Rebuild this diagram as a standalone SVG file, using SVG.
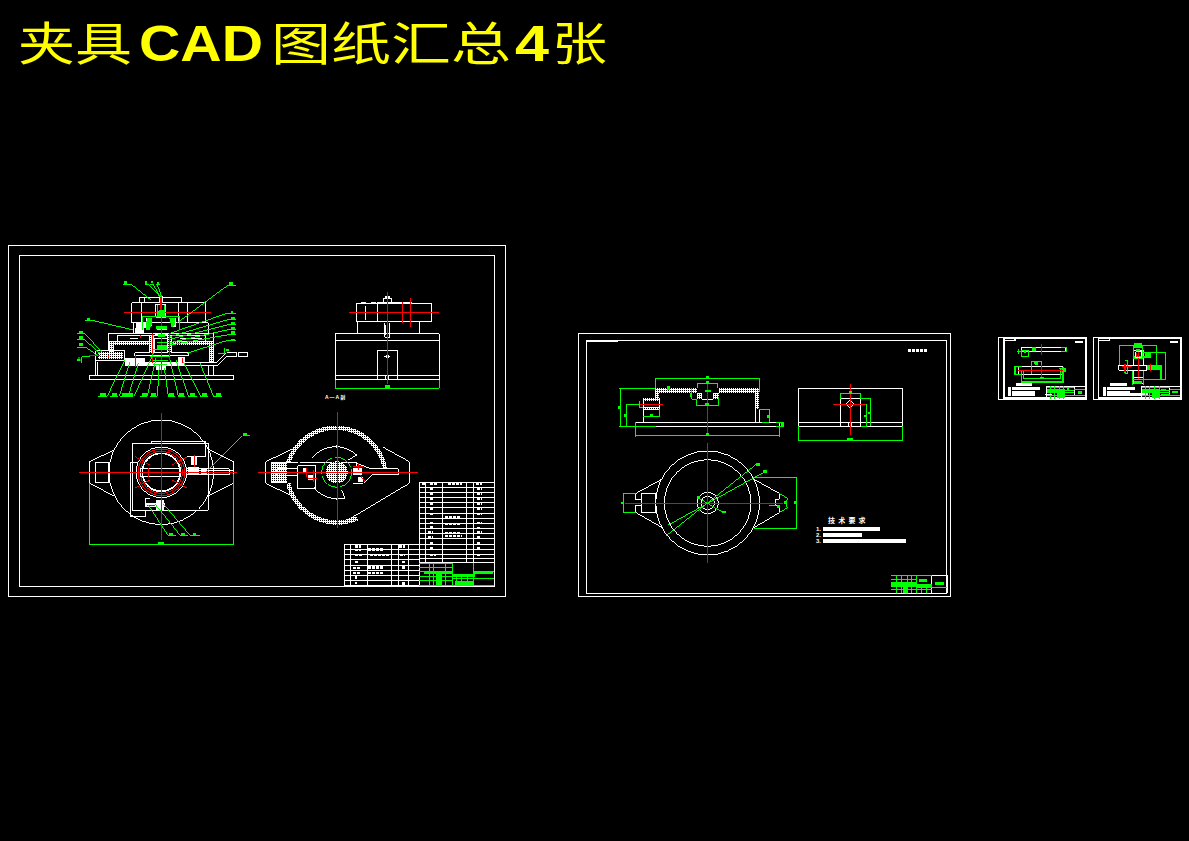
<svg xmlns="http://www.w3.org/2000/svg" width="1189" height="841" viewBox="0 0 1189 841">
<style>
text{font-family:"Liberation Sans","Noto Sans CJK SC",sans-serif}
.t{fill:#ff0;font-size:46px;font-family:"Noto Sans CJK SC",sans-serif}
.c{fill:#ff0;font-size:50px;font-weight:700}
.tw{fill:#fff;font-size:7px;font-weight:700}
g{shape-rendering:crispEdges}
.f{fill:none;stroke:#fff;stroke-width:1}
.w{fill:none;stroke:#fff;stroke-width:3}
.r{fill:none;stroke:#f00;stroke-width:3}
.g{fill:none;stroke:#0f0;stroke-width:3}
.wf{fill:#fff;stroke:none}
.gf{fill:#0f0;stroke:none}
.h{fill:url(#hatch);stroke:none}
.hs{fill:none;stroke:url(#hatch);stroke-width:13}
.b{fill:none;stroke:#fff;stroke-width:7;stroke-dasharray:9 3}
.gb{fill:none;stroke:#0f0;stroke-width:8}
</style>
<defs>
<pattern id="hatch" width="6" height="6" patternUnits="userSpaceOnUse"><rect width="6" height="6" fill="#fff"/><rect width="3" height="3" fill="#000"/></pattern>
</defs>
<rect width="1189" height="841" fill="#000"/>
<g id="title" style="shape-rendering:auto">
<text class="t" x="18" y="60" textLength="114" lengthAdjust="spacingAndGlyphs">夹具</text>
<text class="c" x="139" y="61" textLength="124" lengthAdjust="spacingAndGlyphs">CAD</text>
<text class="t" x="271" y="60" textLength="240" lengthAdjust="spacingAndGlyphs">图纸汇总</text>
<text class="c" x="515" y="61" textLength="34" lengthAdjust="spacingAndGlyphs">4</text>
<text class="t" x="552" y="60" textLength="55" lengthAdjust="spacingAndGlyphs">张</text>
</g>

<g id="sheet1">
<rect class="f" x="8.5" y="245.5" width="497" height="351"/>
<rect class="f" x="19.5" y="255.5" width="475" height="331"/>
</g>

<g id="s1-front" transform="translate(70 270) scale(.33333)">
<rect class="w" x="58" y="316" width="433" height="12"/>
<path class="w" d="M77 265V316M84 275V316M415 285V316M430 285V316"/>
<path class="w" d="M115 240V190H430V276M330 278H440L470 248H500V260H470L440 288H335"/>
<rect class="w" x="507" y="248" width="26" height="12"/>
<path class="h" d="M118 212H430V226H310V212H245V226H132V250H118Z"/>
<path class="h" d="M418 226H430V276H418Z"/>
<path class="w" d="M142 212V198H408V212M180 205H205M330 205H395"/>
<path class="w" d="M78 243H165V272H78ZM195 248H355V258H195Z"/>
<path class="h" d="M84 246H160V268H84Z"/>
<path class="wf" d="M165 265H225V288H165ZM200 275H345V288H200ZM325 262H345V285H325ZM258 285H288V300H258Z"/>
<path class="h" d="M238 196H252V250H238ZM292 196H306V250H292Z"/>
<path class="w" d="M255 205H292V248H255ZM260 180H290M255 195H295M260 290V300H285V290"/>
<path class="w" d="M185 98V158M185 158H415V190M190 158V190M185 98H407V158H352V98M216 98V160M327 98V160M210 97V82H335V97M225 82V97"/>
<path class="w" d="M258 103H288V142H258Z"/>
<path class="wf" d="M268 78H280V98H268ZM272 120H277V130H272ZM198 160H230V175H198ZM196 175H222V188H196ZM228 145H246V168H228ZM302 145H318V170H302Z"/>
<path class="r" d="M162 127H422M275 78V200M272 75V125M275 200V312M57 258H90M115 255V263M212 195V205M247 190V280M298 190V270M198 255V290M337 265V280"/>
<path class="r" style="stroke-width:6" d="M310 150V165M236 150V165"/>
<path class="g" d="M185 44L243 90M238 45L270 80M250 45L272 82M262 45L276 82M472 47L320 160M75 153L190 180M470 130L300 190M470 150L300 200M470 165L300 208M470 180L300 218M470 195L300 225M470 212L350 250M45 192L95 245M45 210L90 250M45 230L85 258M36 278V260H60M465 233V250H445"/>
<path class="g" d="M216 140H330M218 140V180M330 140V180M262 104L262 135M284 104L284 135M250 240H300M240 260H300M250 272H295M250 285H290M262 218H292M262 235H292"/>
<path class="g" d="M112 378L165 270M148 378L180 275M175 378L205 280M193 378L250 250M232 378L258 265M262 378L268 285M295 378L283 295M325 378L300 270M355 378L318 270M392 378L340 275M430 378L390 280"/>
<path class="g" d="M84 379H110M120 379H145M150 379H190M210 379H232M240 379H262M295 379H315M325 379H345M355 379H380M390 379H415M430 379H455M22 190H45M22 210H45M22 232H45M158 44H185M225 44H238M240 44H252M258 44H270M470 47H497M45 152H75M470 132H497M470 150H497M470 165H497M470 180H497M470 195H497M470 212H497"/>
<path class="gb" d="M91 374H108M125 374H142M155 374H190M215 374H230M243 374H258M297 374H313M327 374H342M360 374H376M397 374H412M437 374H454M28 186H38M28 203H38M28 224H38M162 38H172M226 37H231M242 36H250M260 39H268M477 41H488M51 148H60M483 127H490M483 146H496M483 161H496M483 176H496M483 188H496M483 210H496M22 270H31M468 240H476"/>
<path class="gf" d="M230 145H245V165L238 180H228ZM298 145H315V165L305 172ZM262 128H285V140H262ZM258 168H292V178H258ZM265 192H285V202H265ZM262 225H290V240H262ZM270 120L280 120L285 128H260Z"/>
</g>

<g id="s1-side" transform="translate(330 285) scale(.33333)">
<path class="w" d="M16 284V146H328V284M16 166H328M16 272H328M16 284H328"/>
<path class="w" d="M82 146V111H268V146M142 284V196H202V284M168 272V284M176 272V284"/>
<path class="w" d="M79 110V55H305V110ZM142 55V110M106 62V105M92 52H108M124 52H138M142 52H245"/>
<path class="w" d="M160 55V40H185V55M164 115V150M180 115V150M164 150V157H180V150M168 120V150"/>
<path class="wf" d="M167 209H177V219H167ZM163 212H181V216H163ZM165 34H179V40H165Z"/>
<path class="r" d="M172 21V298M57 82H327M217 50V115M241 40V125"/>
<path class="g" d="M16 284V310H328V284"/>
<rect class="gf" x="165" y="300" width="14" height="10"/>
</g>

<g id="s1-plan" transform="translate(70 400) scale(.33333)">
<circle class="w" cx="274" cy="217" r="157"/>
<path class="w" d="M133 150L58 185V250L133 288M413 147L491 185V250L413 288"/>
<rect class="w" x="76" y="187" width="40" height="60"/>
<path class="w" d="M187 130H415V331H187ZM181 187V350H227V331M244 130V124H407V170H350M181 187H205"/>
<circle class="w" cx="274" cy="217" r="76"/>
<circle class="r" cx="274" cy="217" r="70"/>
<circle class="r" cx="274" cy="217" r="63"/>
<circle class="w" cx="274" cy="217" r="57" style="stroke-width:5"/>
<path class="r" d="M195 170L240 195M352 170L305 195M195 264L240 240M352 264L305 240"/>
<rect class="w" x="212" y="207" width="118" height="23"/>
<path class="w" d="M350 207H478V225H350M350 212H478M478 212H490"/>
<path class="wf" d="M355 200H388V225H355ZM225 310H285V322H225ZM258 300H282V330H258ZM392 208H412V226H392ZM364 170H380V195H364Z"/>
<path class="w" d="M228 315L228 295H240"/>
<path class="r" d="M27 217H501M274 40V420M373 165V200M235 205V230M232 317H255M385 217H420"/>
<path class="g" d="M58 250V433H491V222M515 108L410 215M518 108H540M235 315L295 408H317M255 312L332 408H355M280 312L362 408H390"/>
<path class="gb" d="M265 429H283M297 404H308M333 404H345M368 404H378M519 102H531"/>
</g>

<g id="s1-section" transform="translate(70 400) scale(.33333)">
<path class="w" d="M672 145L587 185V250L660 285M940 142L1018 185V250L830 362"/>
<path class="hs" d="M655 187A150 150 0 0 1 945 205"/>
<path class="hs" d="M655 250A150 150 0 0 0 862 355"/>
<path class="w" d="M725 175A92 92 0 0 1 860 165L835 180M800 135V145M795 295H805M730 260A92 92 0 0 0 825 295L815 270"/>
<path class="h" d="M603 187H650V247H603Z"/>
<path class="w" d="M603 187H683M603 247H650M620 207H683V227H620Z"/>
<path class="w" d="M683 197H737V267H683ZM690 187H860V197M860 190L905 207H985V225H905L880 250H850"/>
<circle class="h" cx="800" cy="217" r="33"/>
<circle class="g" cx="800" cy="217" r="45" stroke-dasharray="60 8"/>
<path class="wf" d="M700 205H712V215H700ZM850 205H875V225H850ZM865 230H880V245H865ZM715 225H730V240H715Z"/>
<path class="r" d="M564 217H1043M802 36V385M865 190V210M710 205V230M730 210V245M870 225L885 245M850 200H880M715 235H740"/>
</g>

<g id="s1-tables" transform="translate(340 475) scale(.33333)">
<path class="w" d="M238 22H463V263H238ZM238 37H463M238 53H463M238 68H463M238 84H463M238 99H463M238 115H463M238 130H463M238 146H463M238 161H463M238 177H463M238 192H463M238 208H463M238 223H463M238 238H463M238 250H463M258 22V263M308 22V263M380 22V263M400 22V263"/>
<path class="w" d="M13 208H238V333H13ZM13 223H238M13 238H238M13 255H238M13 272H238M13 288H238M13 303H238M13 318H238M32 208V333M83 208V333M155 208V333M175 208V333M205 208V333"/>
<path class="b" d="M270 27H290M325 27H365M408 27H425M245 27H255M270 42H278M410 42H425M270 58H278M410 58H425M270 73H280M410 73H425M270 88H278M410 88H425M410 103H425M270 103H280M270 118H278M315 128H360M410 118H425M270 145H280M410 145H425M270 158H280M410 160H420M265 172H280M410 172H425M265 188H280M410 188H420M270 205H280M410 205H420M270 220H278M410 220H420M270 240H288M410 240H420M85 224H130M178 215H195M45 215H62M45 225H62M90 240H150M45 240H70M180 240H195M45 262H55M40 280H60M85 278H130M185 262H195M185 278H195M40 294H60M85 294H130M45 308H50M45 325H50M185 326H195"/>
<path class="b" style="stroke-width:4" d="M315 148H360M315 160H358M315 172H360M315 183H365"/>
<path class="g" d="M238 265H338V333M238 278H338M238 291H338M238 305H338M238 318H338M238 332H338M268 265V333M280 265V333M318 265V333M400 263V333M338 333H463M400 290H463M400 310H463"/>
<path class="gf" d="M288 295H305V333H288ZM252 291H338V298H252ZM340 298H405V305H340ZM345 318H400V330H345ZM402 287H460V296H402Z"/>
<path class="g" d="M338 310H400M350 298V333M365 298V333M382 298V333"/>
</g>

<g id="sheet2">
<rect class="f" x="578.5" y="333.5" width="372" height="263"/>
<rect class="f" x="586.5" y="340.5" width="360" height="253"/>
<path class="f" d="M586.5 341.5H618"/>
</g>

<g id="s2-front" transform="translate(610 340) scale(.33333)">
<path class="w" d="M76 247H508V259H76ZM436 208V247M100 180V247M100 208H148M148 175V230M100 230H148M448 208V247"/>
<path class="h" d="M136 145H448V160H328V145H262V160H148V178H136ZM436 160H448V208H436ZM100 175H148V182H100ZM100 202H148V208H100ZM262 160H275V178H262ZM310 160H327V178H310Z"/>
<path class="w" d="M275 178H310"/>
<path class="r" d="M292 130V278M292 310V330M90 193H159"/>
<path class="g" d="M136 145V115H449V155M28 145H136M31 145V258M28 259H137M50 193V258M48 193H90M90 182V203H100M100 230H148V208M262 145V130H323V145M246 145V178H262M259 178V196H326V172M448 208H478V247H456M498 247H520V260H498M76 247V290M508 259V290M76 286H508"/>
<path class="gb" d="M288 113H297M288 128H297M284 153H302M243 160V172M176 137V150M28 198V206M47 222V230M120 227H129M286 193H298M476 225V233M288 284H297M518 250V258"/>
</g>

<g id="s2-side" transform="translate(610 340) scale(.33333)">
<path class="w" d="M565 259V145H878V259M565 247H878M565 259H878M691 259V177H751V259M715 247V259M725 247V259"/>
<circle class="w" cx="720" cy="192" r="10" stroke-dasharray="6 2"/>
<path class="r" d="M721 132V285M669 193H771"/>
<path class="g" d="M691 177V160H751V177M751 175H782V259M770 193V259H752M565 259V301H878V259"/>
<path class="gb" d="M717 158H726M712 297H729M766 226V232M778 215V222"/>
</g>

<g id="s2-plan" transform="translate(610 440) scale(.33333)">
<circle class="w" cx="293" cy="189" r="156"/>
<circle class="w" cx="293" cy="189" r="130"/>
<circle class="w" cx="293" cy="189" r="32"/>
<circle class="w" cx="293" cy="189" r="20"/>
<path class="w" d="M78 160L155 118M78 218L155 262M94 160H137V218H94ZM76 160V180M76 198V218M432 118L508 160V178H496V196H508V218L432 263M76 180H94M76 198H94"/>
<path class="r" d="M292 10V368M45 190H518"/>
<path class="g" d="M40 160H78M40 218H78M40 160V218M432 112H560V265H432M508 160L532 175L528 190L532 203L508 218M440 72L168 288M465 95L175 255M263 172L318 205L335 215H345M478 198H497"/>
<path class="gb" d="M438 73H450M458 95H472M336 216H348M262 172H270M500 200H510M527 184V192M556 184V192M36 186V192"/>
</g>

<g id="s2-notes">
<text class="tw" x="828" y="523" letter-spacing="3.2">技术要求</text>
<text class="tw" x="816" y="531" style="font-size:6px">1.</text>
<text class="tw" x="816" y="537" style="font-size:6px">2.</text>
<text class="tw" x="816" y="543" style="font-size:6px">3.</text>
<path class="f" style="stroke-width:4;stroke-dasharray:3.500 .5" d="M823 529H880M823 535H862M823 540.500H906"/>
<path class="f" style="stroke-width:3;stroke-dasharray:3 1" d="M908 350H928"/>
</g>

<g id="s2-titleblock" transform="translate(610 440) scale(.33333)">
<path class="w" d="M844 406H1012M965 406V460M1012 406V460"/>
<path class="g" d="M844 408H965M844 418H920M844 428H920M844 438H965M844 450H965M860 406V460M875 406V460M892 406V460M905 406V460M920 406V460M965 442H1012"/>
<path class="gf" d="M844 428H920V440H844ZM880 438H893V460H880ZM928 417H952V426H928ZM920 432H965V445H920ZM975 426H1003V434H975Z"/>
<path class="g" d="M920 450H965M935 445V460M950 445V460"/>
</g>

<g id="sheet3" transform="translate(995 332) scale(.33333)">
<path class="w" style="stroke-width:4" d="M10 16H275V203H10ZM27 20H271V198H27ZM27 26H60V20"/>
<rect class="wf" x="240" y="27" width="24" height="5"/>
<rect class="w" x="80" y="46" width="133" height="12"/>
<path class="g" style="stroke-width:4" d="M66 58H80M80 56H100V74H80ZM70 50V66M198 46H215V58H198M112 46V58M120 46V58"/>
<path class="gf" d="M112 46H120V58H112ZM88 54H93V64H88Z"/>
<path class="r" style="stroke-width:4" d="M139 36V70"/>
<rect class="w" x="70" y="104" width="132" height="24"/>
<path class="g" style="stroke-width:4" d="M60 103H80M60 103V128H80M80 115V150H204V104M86 118V140H196V110M110 125V88H140V115M120 88V96M192 110H212"/>
<path class="gf" d="M195 108H213V120H195ZM120 86H130V100H120ZM135 135H147V142H135ZM57 110H61V120H57Z"/>
<path class="r" style="stroke-width:4" d="M70 116H205M139 100V135M200 110V122"/>
<path class="wf" d="M62 153H110V162H62ZM50 166H136V175H50ZM40 166H47V192H40ZM50 177H120V192H50Z"/>
<path class="w" d="M156 163H271M156 163V198M238 163V190"/>
<path class="g" d="M156 168H238M156 175H238M156 182H238M156 190H238M168 163V200M180 163V200M194 163V200M205 163V200M238 172H271M238 190H271"/>
<path class="gf" d="M156 172H210V180H156ZM186 180H210V198H186ZM216 168H222V178H216ZM248 176H262V186H248Z"/>
<path class="w" d="M150 187H172"/>
</g>

<g id="sheet4" transform="translate(995 332) scale(.33333)">
<path class="w" style="stroke-width:4" d="M295 16H560V203H295ZM310 20H556V198H310ZM310 26H344V20"/>
<rect class="wf" x="525" y="27" width="24" height="5"/>
<path class="w" d="M415 55H445V100M415 55V100M372 100H455V115H372ZM415 115V155H445V115"/>
<path class="g" style="stroke-width:4" d="M373 40H485V100M373 40V100M415 45H443V80H415ZM418 75H440M437 62H512V142H412M465 60V75H437M390 85H398V125H390M498 100V142M455 100H500M412 118V158M445 118V158"/>
<path class="gf" d="M418 33H440V42H418ZM424 50H434V60H424ZM386 95H392V122H386ZM455 100H500V115H455ZM418 148H440V156H418ZM450 64H462V74H450Z"/>
<path class="r" style="stroke-width:4" d="M430 60V140M380 104H410M466 96V118M390 95V120M423 62V78"/>
<path class="w" d="M422 60H440V78H422ZM413 138H445"/>
<path class="wf" d="M345 153H395V162H345ZM335 166H420V175H335ZM325 166H332V192H325ZM335 177H405V192H335ZM400 184H458V192H400Z"/>
<path class="w" d="M441 163H556M441 163V198M525 163V190"/>
<path class="g" d="M441 168H525M441 175H525M441 182H525M441 190H525M453 163V200M465 163V200M480 163V200M495 163V200M525 172H556M525 190H556"/>
<path class="gf" d="M441 172H495V180H441ZM470 182H495V198H470ZM498 170H513V176H498ZM532 176H548V184H532ZM498 186H525V192H498Z"/>
</g>

<g id="labels">
<text x="325" y="399" style="fill:#fff;font-size:5px;font-weight:700" letter-spacing="1">A—A剖</text>
<text x="77" y="361" style="fill:#0f0;font-size:6px">A</text>
</g>
</svg>
